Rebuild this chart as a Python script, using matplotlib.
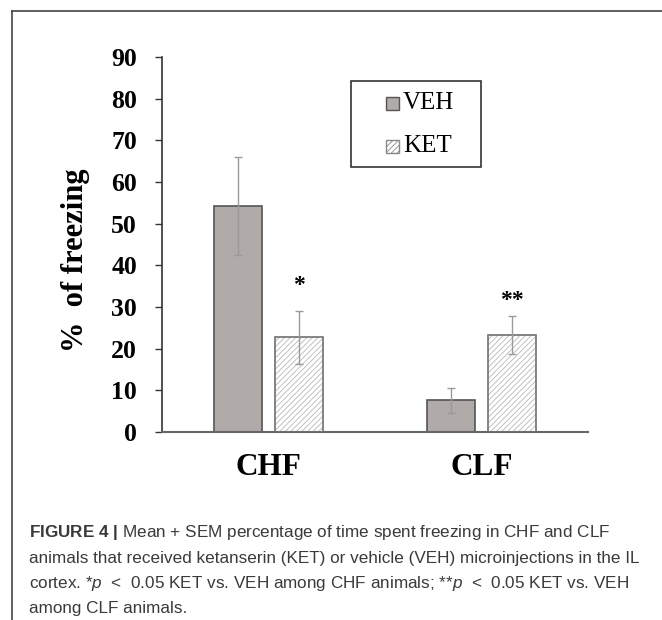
import matplotlib
matplotlib.use('Agg')
import matplotlib.pyplot as plt
from matplotlib.patches import Rectangle
from matplotlib.lines import Line2D
import numpy as np

# values (mean + SEM, % freezing)
groups = ['CHF', 'CLF']
veh_mean = [54.3, 7.6]
veh_sem = [11.8, 3.0]
ket_mean = [22.7, 23.3]
ket_sem = [6.4, 4.5]
stars = ['*', '**']
yticks = [0, 10, 20, 30, 40, 50, 60, 70, 80, 90]

caption = [
    r"$\mathbf{FIGURE\ 4\ |}$ Mean + SEM percentage of time spent freezing in CHF and CLF",
    "animals that received ketanserin (KET) or vehicle (VEH) microinjections in the IL",
    r"cortex. *$p$  <  0.05 KET vs. VEH among CHF animals; **$p$  <  0.05 KET vs. VEH",
    "among CLF animals.",
]

plt.rcParams['font.family'] = ['Liberation Serif', 'DejaVu Serif']
plt.rcParams['mathtext.fontset'] = 'custom'
plt.rcParams['mathtext.rm'] = 'Liberation Sans'
plt.rcParams['mathtext.it'] = 'Liberation Sans:italic'
plt.rcParams['mathtext.bf'] = 'Liberation Sans:bold'
plt.rcParams['hatch.linewidth'] = 0.6

W, H = 662, 620
fig = plt.figure(figsize=(W / 100, H / 100), dpi=100)
ax = fig.add_axes([162 / W, 1 - 432 / H, (588 - 162) / W, (432 - 57) / H])

x = np.arange(len(groups))
off = 0.142
w = 0.225
veh_col = '#b0aaa9'

ax.bar(x - off, veh_mean, w, color=veh_col, edgecolor='#555555', lw=1.2, zorder=2)
ax.bar(x + off, ket_mean, w, color='white', edgecolor='#b8b8b8', hatch='//////', lw=0, zorder=2)
ax.bar(x + off, ket_mean, w, fill=False, edgecolor='#707070', lw=1.2, zorder=3)
ax.errorbar(x - off, veh_mean, yerr=veh_sem, fmt='none', ecolor='#9a9a9a',
            elinewidth=1, capsize=3, capthick=1, zorder=4)
ax.errorbar(x + off, ket_mean, yerr=ket_sem, fmt='none', ecolor='#9a9a9a',
            elinewidth=1, capsize=3, capthick=1, zorder=4)

gaps = [6.0, 3.8]
for i in range(len(groups)):
    ax.text(x[i] + off, ket_mean[i] + ket_sem[i] + gaps[i], stars[i], ha='center',
            va='center', fontsize=17, fontweight='bold')

ax.set_xlim(-0.5, 1.5)
ax.set_ylim(0, 90)
ax.set_yticks(yticks)
ax.set_yticklabels([str(v) for v in yticks], fontsize=18.5, fontweight='bold')
ax.set_xticks(x)
ax.set_xticklabels(groups, fontsize=22.5, fontweight='bold')
ax.tick_params(axis='y', length=5, width=1, color='#333333', pad=13)
ax.tick_params(axis='x', length=0, pad=15)
for s in ['top', 'right']:
    ax.spines[s].set_visible(False)
ax.spines['left'].set_color('#333333')
ax.spines['bottom'].set_color('#666666')
ax.spines['left'].set_linewidth(1.2)
ax.spines['bottom'].set_linewidth(1.5)

fig.text(75 / W, 1 - 260 / H, '%  of freezing', rotation=90, ha='center', va='center',
         fontsize=22, fontweight='bold')

# legend box drawn by hand to get the wide Excel-like frame
fig.add_artist(Rectangle((351 / W, 1 - 167 / H), 130 / W, 86 / H, transform=fig.transFigure,
                         fill=False, edgecolor='#333333', lw=1.2))
leg_items = [('VEH', dict(facecolor=veh_col, edgecolor='#555555')),
             ('KET', dict(facecolor='white', edgecolor='#888888', hatch='//////'))]
for k, (lab, st) in enumerate(leg_items):
    yc = 103 + 43 * k
    fig.add_artist(Rectangle((386 / W, 1 - (yc + 7) / H), 13 / W, 13 / H,
                             transform=fig.transFigure, lw=1, **st))
    fig.text(403 / W, 1 - yc / H, lab, ha='left', va='center', fontsize=18)

# outer frame of the figure panel
fig.add_artist(Line2D([12 / W, 1], [1 - 11 / H, 1 - 11 / H], transform=fig.transFigure,
                      color='#444444', lw=1.2))
fig.add_artist(Line2D([12 / W, 12 / W], [0, 1 - 11 / H], transform=fig.transFigure,
                      color='#444444', lw=1.2))

for k, line in enumerate(caption):
    fig.text(29 / W, 1 - (537 + 25.5 * k) / H, line, ha='left', va='baseline',
             fontsize=12.3, family='Liberation Sans', color='#3a3a3a')

fig.savefig('out.png', dpi=100)
